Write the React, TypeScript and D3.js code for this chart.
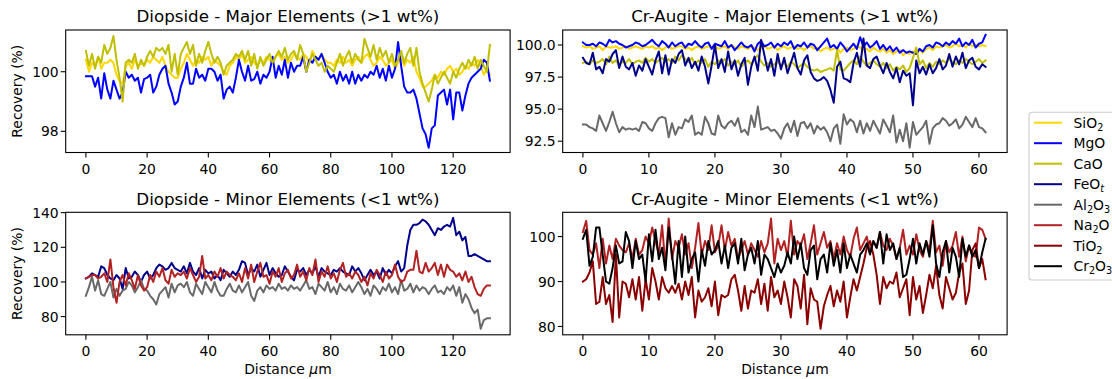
import React from 'react';
import * as d3 from 'd3';

// ---------------- DATA ----------------
// Diopside profile: distance 0..132 µm, 1 µm step
const D_X = d3.range(133);
// Cr-Augite profile: distance 0..61 µm, 0.5 µm step
const C_X = d3.range(123).map((i) => i * 0.5);

const ELEMENTS = ['SiO2', 'MgO', 'CaO', 'FeOt', 'Al2O3', 'Na2O', 'TiO2', 'Cr2O3'];
const ELEMENT_COLORS = ['#FFD700', '#0000FF', '#BFBF00', '#00008B', '#696969', '#B22222', '#8B0000', '#000000'];

const PANEL_TITLES = [
  'Diopside - Major Elements (>1 wt%)',
  'Cr-Augite - Major Elements (>1 wt%)',
  'Diopside - Minor Elements (<1 wt%)',
  'Cr-Augite - Minor Elements (<1 wt%)',
];
const D_X_TICKS = [0, 20, 40, 60, 80, 100, 120];
const C_X_TICKS = [0, 10, 20, 30, 40, 50, 60];
const D_MAJOR_Y_TICKS = [98, 100];
const C_MAJOR_Y_TICKS = [92.5, 95.0, 97.5, 100.0];
const D_MINOR_Y_TICKS = [80, 100, 120, 140];
const C_MINOR_Y_TICKS = [80, 90, 100];

// Diopside – major
const D_SiO2 = [
  100.4, 100.0, 100.3, 100.2, 100.5, 100.1, 100.3, 100.3, 100.4, 100.3,
  99.9, 99.7, 99.6, 100.2, 100.3, 100.1, 100.4, 100.2, 100.3, 100.2,
  100.4, 100.3, 100.5, 100.4, 100.3, 100.5, 100.2, 100.0, 99.9, 99.8,
  99.8, 100.1, 100.3, 100.6, 100.4, 100.2, 100.4, 100.3, 100.5, 100.4,
  100.5, 100.2, 100.4, 100.3, 100.2, 100.0, 99.9, 100.2, 100.3, 100.5,
  100.4, 100.6, 100.3, 100.4, 100.5, 100.3, 100.2, 100.4, 100.3, 100.5,
  100.4, 100.3, 100.5, 100.6, 100.4, 100.5, 100.3, 100.4, 100.6, 100.5,
  100.4, 100.6, 100.5, 100.3, 100.7, 100.5, 100.4, 100.6, 100.4, 100.3,
  100.3, 100.2, 100.4, 100.3, 100.5, 100.3, 100.4, 100.2, 100.4, 100.5,
  100.3, 100.5, 100.6, 100.4, 100.2, 100.3, 100.5, 100.4, 100.2, 100.3,
  100.4, 100.1, 100.3, 100.5, 100.2, 100.4, 100.3, 100.5, 100.0, 99.8,
  99.5, 99.5, 99.6, 99.7, 99.9, 99.8, 100.0, 99.9, 100.1, 100.2,
  100.0, 100.1, 99.9, 100.0, 100.2, 100.1, 100.3, 100.2, 100.4, 100.2,
  99.9, 100.1, 99.9,
];
const D_MgO = [
  99.85, 99.85, 99.85, 99.5, 99.8, 99.1, 99.95, 99.4, 99.1, 99.7,
  99.4, 99.1, 99.3, 100.0, 99.8, 99.9, 99.7, 99.8, 99.3, 99.75,
  99.8, 99.9, 99.3, 99.5, 99.9, 100.1, 100.2, 99.6, 99.3, 98.9,
  99.0, 99.5, 99.8, 100.3, 99.6, 99.6, 100.1, 99.8, 99.9, 99.7,
  100.1, 100.1, 100.0, 99.7, 99.9, 99.1, 99.4, 99.5, 99.3, 99.8,
  100.4, 100.0, 99.7, 100.2, 99.7, 99.75, 100.0, 99.6, 99.9, 99.8,
  100.0, 100.5, 99.8, 100.2, 99.9, 100.4, 99.8, 100.3, 100.0, 100.2,
  100.2, 100.5, 100.0, 100.4, 100.3, 100.5, 100.4, 100.6, 100.3, 100.0,
  99.8, 99.9, 99.6, 100.0, 99.7, 99.9, 99.6, 100.0, 99.6, 99.9,
  99.7, 99.9, 99.8, 100.0, 99.9, 100.2, 99.8, 100.1, 99.7, 100.2,
  99.8, 100.1, 101.0, 100.2, 99.5, 99.3, 99.3, 99.4, 99.1, 98.6,
  98.1, 97.9, 97.45, 98.1, 98.2, 99.2, 99.3, 99.4, 98.9, 99.4,
  98.4, 99.3, 99.3, 98.7, 99.2, 99.6, 99.8, 99.9, 100.0, 100.1,
  100.4, 100.3, 99.7,
];
const D_CaO = [
  100.7, 100.2, 100.6, 100.1, 100.5, 100.3, 100.9, 100.6, 100.8, 101.2,
  100.4, 99.8, 99.0, 100.3, 100.4, 100.3, 100.6, 100.1, 100.4, 100.2,
  100.5, 100.7, 100.5, 100.8, 100.7, 100.8, 100.6, 100.9, 100.0, 100.6,
  99.9, 100.6, 100.8, 101.0, 100.6, 100.9, 100.2, 100.6, 100.3, 100.7,
  101.0, 100.6, 100.3, 100.5, 100.3, 99.9, 100.2, 100.3, 100.4, 100.6,
  100.5, 100.7, 100.4, 100.7, 100.2, 100.6, 100.1, 100.5, 100.2, 100.4,
  100.6, 100.3, 100.5, 100.7, 100.5, 100.8, 100.4, 100.6, 100.7, 100.4,
  100.9, 100.6, 100.0, 100.3, 100.6, 100.4, 100.2, 100.3, 100.0, 100.2,
  100.1, 100.0, 100.3, 100.6, 100.2, 100.5, 100.7, 100.3, 100.6, 100.4,
  100.3, 101.1, 100.8, 100.5, 100.9, 100.4, 100.8, 100.5, 100.7, 100.3,
  100.6, 100.2, 100.4, 100.7, 100.3, 100.6, 100.8, 100.2, 100.8, 100.0,
  99.6, 99.3, 99.0, 99.4, 99.9, 99.6, 99.8, 100.0, 99.8, 99.6,
  100.0, 99.8, 100.1, 100.3, 100.1, 100.4, 100.2, 100.5, 100.1, 100.4,
  100.2, 100.0, 100.9,
];

// Diopside – minor
const D_FeOt = [
  102, 103, 105, 104, 103, 109, 108, 104, 102, 101,
  104, 102, 96, 108, 102, 103, 106, 104, 100, 104,
  106, 102, 104, 108, 110, 109, 107, 108, 111, 108,
  107, 106, 109, 105, 111, 106, 104, 108, 102, 107,
  105, 106, 102, 104, 101, 107, 105, 103, 106, 104,
  107, 112, 111, 104, 108, 106, 110, 103, 107, 111,
  104, 108, 105, 103, 104, 109, 106, 103, 101, 107,
  106, 108, 104, 107, 105, 109, 103, 108, 106, 105,
  104, 107, 106, 108, 106, 105, 104, 109, 106, 108,
  105, 101, 104, 107, 104, 106, 102, 108, 104, 107,
  105, 109, 112, 106, 108, 121, 130, 133, 133, 134,
  136, 135, 133, 130, 127, 131, 130, 132, 133, 132,
  137, 127, 129, 124, 126, 115, 115, 116, 115, 114,
  113, 112, 112,
];
const D_Al2O3 = [
  92, 97, 103, 95, 101, 93, 92, 96, 100, 91,
  96, 92, 95, 96, 100, 98, 94, 97, 101, 96,
  95, 92, 90, 87, 93, 95, 97, 91, 99, 94,
  98, 99, 97, 100, 94, 92, 99, 96, 93, 100,
  97, 94, 100, 95, 92, 92, 96, 99, 95, 94,
  98, 94, 97, 100, 92, 89, 95, 97, 94, 98,
  96, 97, 95, 99, 96, 97, 95, 98, 96, 97,
  95, 98, 101, 96, 97, 93, 99, 97, 95, 100,
  94, 97, 93, 99, 96, 95, 98, 94, 97, 100,
  97, 93, 96, 92, 98, 96, 93, 97, 95, 99,
  94, 97, 93, 101, 95, 96, 99, 94, 98, 95,
  97, 96, 93, 96, 98, 94, 95, 93, 97, 95,
  98, 92, 97, 88, 93, 90, 85, 82, 84, 73,
  78, 79, 79,
];
const D_Na2O = [
  102, 103, 104, 104, 102, 103, 105, 100, 113, 97,
  88, 100, 104, 98, 105, 101, 96, 104, 98, 95,
  97, 104, 100, 106, 103, 108, 101, 99, 107, 103,
  105, 104, 106, 102, 108, 104, 100, 103, 115, 102,
  104, 101, 106, 103, 108, 102, 106, 104, 103, 101,
  105, 100, 108, 102, 110, 100, 106, 111, 103, 104,
  99, 106, 103, 108, 100, 105, 107, 102, 104, 110,
  103, 106, 101, 108, 104, 113, 100, 106, 103, 109,
  102, 105, 100, 107, 111, 103, 105, 102, 106, 104,
  100, 103, 98, 105, 102, 107, 104, 100, 106, 102,
  104, 110, 103, 100, 101, 106, 107, 107, 118, 106,
  105, 111, 106, 108, 111, 104, 110, 103, 110, 107,
  106, 103, 105, 101, 106, 100, 103, 97, 93, 92,
  96, 98, 98,
];

// Cr-Augite – major
const C_SiO2 = [
  99.9, 99.8, 99.9, 99.7, 99.8, 99.9, 99.6, 99.9, 99.8, 99.8,
  99.9, 99.7, 99.8, 99.9, 99.7, 99.8, 99.9, 99.8, 99.7, 99.9,
  99.8, 99.9, 99.7, 99.8, 99.6, 99.8, 99.9, 99.7, 99.8, 99.9,
  99.9, 99.7, 99.8, 99.6, 99.8, 99.9, 99.7, 99.8, 99.9, 99.8,
  99.9, 99.7, 99.8, 99.9, 99.7, 100.0, 99.8, 99.7, 99.9, 99.8,
  99.7, 99.9, 99.8, 99.6, 99.8, 99.9, 99.7, 99.8, 99.9, 99.6,
  99.8, 99.9, 99.7, 99.8, 99.9, 99.7, 99.8, 99.6, 99.8, 99.9,
  99.7, 99.8, 99.5, 99.7, 99.8, 99.6, 99.7, 99.8, 99.4, 99.7,
  99.8, 99.6, 99.7, 99.9, 99.8, 99.6, 99.7, 99.5, 99.8, 99.6,
  99.5, 99.7, 99.4, 99.6, 99.3, 99.5, 99.6, 99.2, 99.4, 99.3,
  99.5, 99.3, 99.6, 99.4, 99.7, 99.8, 99.6, 99.9, 99.8, 99.9,
  100.0, 99.8, 99.9, 100.1, 99.9, 100.0, 99.8, 100.1, 99.9, 100.0,
  99.9, 100.0, 99.9,
];
const C_MgO = [
  100.2, 100.0, 100.0, 100.1, 99.9, 100.2, 100.1, 99.9, 100.4, 100.2,
  100.3, 100.1, 100.0, 99.8, 99.9, 100.0, 100.2, 100.1, 99.9, 100.0,
  100.2, 100.4, 100.1, 99.9, 100.3, 100.1, 99.8, 100.2, 99.9, 100.1,
  100.2, 99.8, 100.1, 100.0, 100.3, 100.0, 99.8, 100.1, 100.2, 99.7,
  100.1, 100.0, 99.9, 100.3, 99.8, 100.0, 99.6, 99.9, 100.2, 99.9,
  99.8, 100.0, 99.5, 100.1, 100.3, 99.9, 100.0, 100.2, 99.8, 100.1,
  99.9, 100.2, 100.0, 100.3, 99.7, 100.0, 99.9, 100.2, 99.8, 100.1,
  100.0, 99.6, 99.9, 100.2, 100.5, 99.8, 100.0, 99.7, 100.2, 99.9,
  99.5, 99.8, 100.1, 99.7, 100.6, 99.9, 100.2, 99.8, 100.0, 100.3,
  99.7, 100.0, 99.6, 99.9, 99.5, 99.8, 99.4, 99.6, 99.4, 99.5,
  99.4, 99.3, 99.7, 99.5, 99.9, 100.0, 99.8, 100.2, 100.1, 99.9,
  100.2, 100.0, 100.3, 100.1, 100.5, 99.9, 100.2, 100.0, 100.4, 99.8,
  100.1, 100.2, 100.8,
];
const C_CaO = [
  98.6, 98.7, 98.5, 98.8, 98.6, 98.7, 98.9, 98.5, 99.1, 98.6,
  98.8, 98.4, 98.7, 98.6, 98.9, 98.5, 98.7, 98.8, 98.6, 99.0,
  98.7, 98.9, 98.6, 98.8, 99.0, 98.7, 98.9, 98.6, 99.1, 98.8,
  99.2, 98.9, 98.7, 99.0, 98.5, 98.8, 98.6, 98.9, 98.3, 98.7,
  98.5, 98.8, 98.6, 98.9, 98.4, 98.7, 98.5, 98.8, 98.3, 98.6,
  98.8, 98.5, 98.9, 99.2, 98.7, 98.4, 98.6, 98.3, 98.5, 98.7,
  98.4, 98.6, 98.3, 98.7, 98.5, 98.2, 98.4, 98.6, 98.3, 98.1,
  98.0, 98.1, 97.9, 98.0, 98.1, 98.2, 98.0, 99.6, 98.1, 98.0,
  98.3, 98.6, 98.8, 98.5, 99.1, 98.7, 98.4, 98.6, 98.8, 98.5,
  98.3, 98.6, 98.2, 98.5, 98.0, 98.3, 98.1, 98.4, 97.9, 98.2,
  99.0, 99.8, 98.5, 98.8, 98.2, 98.6, 98.3, 98.7, 98.5, 98.8,
  98.6, 98.9, 98.7, 98.5, 98.8, 98.6, 98.9, 98.7, 98.5, 98.7,
  98.9, 98.6, 98.8,
];
const C_FeOt = [
  99.0, 98.6, 98.5, 99.4, 98.1, 98.3, 97.8, 98.9, 98.7, 99.3,
  99.6, 98.2, 99.1, 98.3, 98.1, 98.6, 97.6, 98.4, 98.0, 98.9,
  98.3, 97.7, 98.8, 99.5, 97.8, 99.2, 97.7, 98.9, 98.6, 99.3,
  99.6, 98.4, 99.0, 98.2, 98.7, 98.0, 99.1, 98.3, 97.0, 98.4,
  100.0, 98.2, 98.9, 97.9, 99.5, 98.1, 98.8, 97.6, 98.5, 99.0,
  96.9, 98.3, 99.1, 98.0, 100.4, 99.2, 98.0, 98.9, 97.6, 99.3,
  98.1, 99.0, 97.8, 98.6, 99.4, 98.2, 97.7, 98.8, 99.2, 97.9,
  97.4, 97.2, 97.3, 97.5, 97.2, 96.5, 95.5, 98.3, 98.7, 97.4,
  97.3, 97.1, 98.6, 99.4, 98.3, 100.5, 98.4, 98.2, 98.9, 99.1,
  98.4, 97.8, 98.6, 97.9, 97.4, 98.2, 97.1, 98.0, 97.6, 97.8,
  95.3, 98.8, 97.8, 98.3, 97.7, 98.5, 97.8, 98.2, 98.9, 98.1,
  98.4, 99.3, 98.3, 99.1, 98.5, 99.4, 98.2, 98.8, 99.0, 98.3,
  98.1, 98.5, 98.3,
];
const C_Al2O3 = [
  93.8, 93.8, 93.6, 93.5, 93.3, 94.5, 93.9, 93.3, 94.0, 94.8,
  93.9, 93.2, 93.6, 93.4, 93.5, 93.4, 93.5, 93.3, 94.0, 93.9,
  93.5, 93.3, 93.9, 94.3, 94.4, 94.3, 92.8, 93.9, 93.0, 93.6,
  93.5, 94.2, 94.0, 94.5, 93.0, 93.2, 93.0, 94.4, 93.9, 93.1,
  93.0, 94.5, 93.7, 93.5, 93.9, 94.1, 93.7, 94.3, 93.2, 93.4,
  93.0, 94.5, 93.6, 95.2, 93.4, 93.5, 93.6, 93.3, 93.4, 93.1,
  92.7, 93.5, 93.9, 93.2, 94.1, 92.9, 93.9, 94.0, 93.5, 93.9,
  93.1, 93.7, 93.4, 93.6, 93.2, 92.5, 93.5, 93.8, 92.3, 94.6,
  93.8, 94.2, 94.0, 93.2, 94.1, 93.1, 93.9, 93.3, 94.1, 93.6,
  93.1, 94.2, 93.7, 93.2, 94.5, 92.4, 93.4, 92.5, 93.9, 92.0,
  94.0, 93.0, 93.3, 93.6, 94.1, 92.3, 93.5, 93.8, 93.9, 94.3,
  94.1, 93.7, 93.9, 94.2, 93.5, 93.8, 94.4, 94.0, 93.6, 94.3,
  93.6, 93.5, 93.2,
];

// Cr-Augite – minor
const C_Na2O = [
  101.0, 103.5, 97.0, 96.0, 98.5, 93.0, 99.5, 94.0, 98.0, 95.0,
  99.5, 98.0, 97.0, 96.5, 98.5, 95.0, 99.5, 96.0, 97.0, 100.0,
  98.5, 102.0, 99.0, 96.0, 102.5, 93.5, 104.0, 95.0, 99.0, 97.5,
  100.5, 96.0, 98.5, 93.0, 97.5, 103.0, 96.0, 99.0, 97.0, 102.5,
  96.5, 98.0, 102.5, 97.0, 101.0, 98.0, 99.5, 95.0, 97.0, 99.0,
  96.0, 98.5, 97.0, 95.5, 99.0, 96.5, 98.5, 104.0, 94.0, 99.5,
  97.0, 99.0, 95.5, 103.5, 96.0, 99.0, 98.0, 100.5, 95.0, 98.5,
  102.5, 96.0, 98.5, 101.0, 97.5, 99.0, 95.0, 98.5, 96.0, 100.0,
  97.0, 95.5, 99.5, 102.0, 97.0, 98.5, 100.0, 96.5, 99.0, 97.5,
  101.0, 98.0, 97.0, 99.5, 98.0, 95.0, 97.5, 101.5, 96.0, 98.0,
  96.0, 100.5, 97.0, 95.5, 99.0, 97.0, 103.5, 96.5, 98.0, 93.5,
  99.0, 96.5, 98.0, 101.0, 95.5, 100.0, 94.5, 98.0, 96.0, 95.5,
  102.0, 101.5, 99.5,
];
const C_TiO2 = [
  90.0, 90.5, 92.0, 94.5, 85.0, 85.5, 91.0, 85.0, 87.0, 81.0,
  96.0, 82.0, 90.0, 89.5, 86.5, 90.5, 86.0, 91.0, 83.5, 90.5,
  86.0, 93.0, 90.0, 86.0, 91.0, 88.5, 87.5, 89.0, 87.5, 89.5,
  86.0, 90.0, 87.0, 91.0, 82.0, 88.0, 85.5, 86.5, 88.5, 84.5,
  90.0, 82.5, 87.0, 86.5, 87.0, 90.5, 91.5, 88.0, 83.5, 89.0,
  84.0, 88.0, 87.5, 90.5, 85.0, 89.5, 83.5, 91.0, 86.5, 88.0,
  85.0, 90.0, 86.5, 82.0, 90.5, 89.0, 84.0, 91.5, 80.5, 88.5,
  86.0, 85.5, 79.5, 84.5, 87.0, 89.0, 84.5, 88.0, 85.5, 90.0,
  82.0, 86.5, 90.5, 88.0, 91.0, 94.0, 97.5, 99.0, 96.0, 91.5,
  85.0, 91.0, 88.5, 90.0, 89.5, 92.0, 86.5, 88.5, 90.5, 82.5,
  91.0, 86.0, 89.0, 83.0, 87.0, 91.5, 88.5, 93.5, 87.0, 84.0,
  91.0, 88.5, 86.0, 87.5, 92.0, 94.0, 85.0, 88.0, 97.0, 98.5,
  93.0, 95.0, 90.5,
];
const C_Cr2O3 = [
  99.5, 101.5, 93.5, 95.5, 102.0, 102.0, 96.0, 90.0, 89.5, 93.0,
  98.0, 94.0, 94.5, 101.0, 99.0, 93.0, 99.0, 95.0, 96.0, 90.0,
  100.5, 94.5, 101.5, 95.0, 97.5, 92.5, 102.0, 96.0, 89.5, 99.0,
  91.0, 100.0, 92.0, 95.0, 96.5, 90.0, 97.0, 93.5, 99.0, 96.0,
  97.0, 99.0, 94.0, 98.0, 93.0, 97.5, 98.5, 94.0, 99.5, 92.5,
  96.0, 97.5, 94.0, 99.0, 91.5, 96.0, 95.0, 93.0, 91.0, 94.0,
  92.0, 93.5, 96.5, 94.0, 100.0, 95.0, 98.5, 93.0, 91.5, 97.0,
  98.0, 90.5, 95.0, 96.0, 92.0, 98.5, 93.5, 97.0, 92.0, 98.5,
  93.0, 96.0, 94.0, 92.0, 96.0, 97.0, 98.5, 96.0, 99.0, 97.5,
  101.0, 94.0, 100.5, 97.0, 98.5, 95.0, 97.5, 91.0, 91.5, 95.0,
  99.5, 94.0, 98.5, 96.0, 99.0, 95.5, 102.5, 94.0, 91.0, 96.5,
  99.0, 92.0, 97.5, 95.5, 91.0, 99.5, 95.5, 98.0, 95.5, 97.0,
  93.0, 96.5, 99.5,
];

// ---------------- LAYOUT ----------------
const W = 1112;
const H = 379;
const FONT = "'DejaVu Sans', 'Liberation Sans', sans-serif";
const TICK_FS = 13.9;
const TITLE_FS = 16.7;

const colorOf = (name: string) => ELEMENT_COLORS[ELEMENTS.indexOf(name)];

type Series = { name: string; values: number[] };
type PanelProps = {
  id: string;
  title: string;
  left: number;
  top: number;
  width: number;
  height: number;
  x: number[];
  xDomain: [number, number];
  yDomain: [number, number];
  xTicks: number[];
  yTicks: number[];
  yFmt: (v: number) => string;
  series: Series[];
  ylabel?: boolean;
  xlabel?: boolean;
};

function Panel(p: PanelProps) {
  const xs = d3.scaleLinear().domain(p.xDomain).range([p.left, p.left + p.width]);
  const ys = d3.scaleLinear().domain(p.yDomain).range([p.top + p.height, p.top]);
  const bottom = p.top + p.height;
  return (
    <g>
      <clipPath id={p.id}>
        <rect x={p.left} y={p.top} width={p.width} height={p.height} />
      </clipPath>
      <g clipPath={`url(#${p.id})`}>
        {p.series.map((s) => {
          if (s.values.length !== p.x.length) throw new Error(`length mismatch ${p.id} ${s.name} ${s.values.length}`);
          const line = d3
            .line<number>()
            .x((_, i) => xs(p.x[i]))
            .y((d) => ys(d));
          return (
            <path
              key={s.name}
              d={line(s.values) || ''}
              fill="none"
              stroke={colorOf(s.name)}
              strokeWidth={2}
              strokeLinejoin="round"
              strokeLinecap="square"
            />
          );
        })}
      </g>
      <rect x={p.left} y={p.top} width={p.width} height={p.height} fill="none" stroke="#000" strokeWidth={1.1} />
      {p.xTicks.map((t) => (
        <g key={'x' + t}>
          <line x1={xs(t)} x2={xs(t)} y1={bottom} y2={bottom + 4.9} stroke="#000" strokeWidth={1.1} />
          <text x={xs(t)} y={bottom + 21.3} textAnchor="middle" fontSize={TICK_FS} fontFamily={FONT} fill="#000">
            {t}
          </text>
        </g>
      ))}
      {p.yTicks.map((t) => (
        <g key={'y' + t}>
          <line x1={p.left - 4.9} x2={p.left} y1={ys(t)} y2={ys(t)} stroke="#000" strokeWidth={1.1} />
          <text x={p.left - 7} y={ys(t) + 5.1} textAnchor="end" fontSize={TICK_FS} fontFamily={FONT} fill="#000">
            {p.yFmt(t)}
          </text>
        </g>
      ))}
      <text
        x={p.left + p.width / 2}
        y={p.top - 7.8}
        textAnchor="middle"
        fontSize={TITLE_FS}
        fontFamily={FONT}
        fill="#000"
      >
        {p.title}
      </text>
      {p.ylabel && (
        <text
          transform={`translate(${21.8},${p.top + p.height / 2}) rotate(-90)`}
          textAnchor="middle"
          fontSize={TICK_FS}
          fontFamily={FONT}
          fill="#000"
        >
          Recovery (%)
        </text>
      )}
      {p.xlabel && (
        <text x={p.left + p.width / 2} y={373.5} textAnchor="middle" fontSize={TICK_FS} fontFamily={FONT} fill="#000">
          Distance <tspan fontStyle="italic">μ</tspan>m
        </text>
      )}
    </g>
  );
}

function Sub({ children }: { children: string }) {
  return (
    <tspan fontSize={9.7} dy={3.2}>
      {children}
    </tspan>
  );
}

function LegendLabel({ name }: { name: string }) {
  // render chemical formula with subscripts
  const up = <tspan dy={-3.2}></tspan>;
  switch (name) {
    case 'SiO2':
      return (<>SiO<Sub>2</Sub></>);
    case 'MgO':
      return <>MgO</>;
    case 'CaO':
      return <>CaO</>;
    case 'FeOt':
      return (<>FeO<tspan fontSize={9.7} dy={3.2} fontStyle="italic">t</tspan></>);
    case 'Al2O3':
      return (<>Al<Sub>2</Sub><tspan dy={-3.2}>O</tspan><Sub>3</Sub></>);
    case 'Na2O':
      return (<>Na<Sub>2</Sub><tspan dy={-3.2}>O</tspan></>);
    case 'TiO2':
      return (<>TiO<Sub>2</Sub></>);
    case 'Cr2O3':
      return (<>Cr<Sub>2</Sub><tspan dy={-3.2}>O</tspan><Sub>3</Sub></>);
    default:
      return <>{name}{up}</>;
  }
}

function Legend() {
  const x0 = 1029;
  const y0 = 112.3;
  const rowY = d3.scaleLinear().domain([0, ELEMENTS.length - 1]).range([122.7, 266.2]);
  return (
    <g>
      <rect x={x0} y={y0} width={110} height={167.7} rx={3} fill="#fff" fillOpacity={0.8} stroke="#cccccc" strokeWidth={1.1} />
      {ELEMENTS.map((e, i) => (
        <g key={e}>
          <line x1={1034} x2={1062} y1={rowY(i)} y2={rowY(i)} stroke={ELEMENT_COLORS[i]} strokeWidth={2} />
          <text x={1073.5} y={rowY(i) + 5} fontSize={TICK_FS} fontFamily={FONT} fill="#000">
            <LegendLabel name={e} />
          </text>
        </g>
      ))}
    </g>
  );
}

export default function App() {
  const fmt0 = d3.format('d');
  const fmt1 = d3.format('.1f');
  const L1 = 65.7;
  const L2 = 562.7;
  const PW = 444.4;
  const T1 = 30;
  const T2 = 212.3;
  const PH = 122.5;
  return (
    <svg
      width={W}
      height={H}
      viewBox={`0 0 ${W} ${H}`}
      style={{ position: 'absolute', left: 0, top: 0, background: '#fff' }}
    >
      <rect width={W} height={H} fill="#fff" />
      <Panel
        id="c1"
        title={PANEL_TITLES[0]}
        left={L1}
        top={T1}
        width={PW}
        height={PH}
        x={D_X}
        xDomain={[-6.6, 138.6]}
        yDomain={[97.29, 101.4]}
        xTicks={D_X_TICKS}
        yTicks={D_MAJOR_Y_TICKS}
        yFmt={fmt0}
        series={[
          { name: 'SiO2', values: D_SiO2 },
          { name: 'MgO', values: D_MgO },
          { name: 'CaO', values: D_CaO },
        ]}
        ylabel
      />
      <Panel
        id="c2"
        title={PANEL_TITLES[1]}
        left={L2}
        top={T1}
        width={PW}
        height={PH}
        x={C_X}
        xDomain={[-3.06, 64.26]}
        yDomain={[91.62, 101.17]}
        xTicks={C_X_TICKS}
        yTicks={C_MAJOR_Y_TICKS}
        yFmt={fmt1}
        series={[
          { name: 'SiO2', values: C_SiO2 },
          { name: 'MgO', values: C_MgO },
          { name: 'CaO', values: C_CaO },
          { name: 'FeOt', values: C_FeOt },
          { name: 'Al2O3', values: C_Al2O3 },
        ]}
      />
      <Panel
        id="c3"
        title={PANEL_TITLES[2]}
        left={L1}
        top={T2}
        width={PW}
        height={PH}
        x={D_X}
        xDomain={[-6.6, 138.6]}
        yDomain={[69.5, 140.2]}
        xTicks={D_X_TICKS}
        yTicks={D_MINOR_Y_TICKS}
        yFmt={fmt0}
        series={[
          { name: 'FeOt', values: D_FeOt },
          { name: 'Al2O3', values: D_Al2O3 },
          { name: 'Na2O', values: D_Na2O },
        ]}
        ylabel
        xlabel
      />
      <Panel
        id="c4"
        title={PANEL_TITLES[3]}
        left={L2}
        top={T2}
        width={PW}
        height={PH}
        x={C_X}
        xDomain={[-3.06, 64.26]}
        yDomain={[78.15, 105.4]}
        xTicks={C_X_TICKS}
        yTicks={C_MINOR_Y_TICKS}
        yFmt={fmt0}
        series={[
          { name: 'Na2O', values: C_Na2O },
          { name: 'TiO2', values: C_TiO2 },
          { name: 'Cr2O3', values: C_Cr2O3 },
        ]}
        xlabel
      />
      <Legend />
    </svg>
  );
}
